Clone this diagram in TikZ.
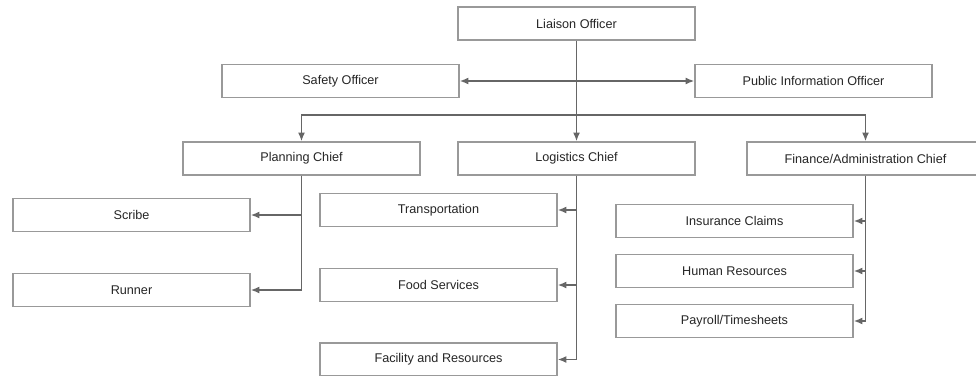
\documentclass[tikz,border=0pt]{standalone}
\usepackage{fontspec}
\setmainfont{Liberation Sans}
\usetikzlibrary{arrows.meta}
\tikzset{>={Latex[length=5pt,width=4pt]}}
\tikzset{
    box/.style={draw=black!40, line width=0.8pt, fill=white, minimum width=4.74cm,
        minimum height=0.66cm, inner sep=0pt, text=black!85,
        font=\fontsize{7.2}{8}\selectfont},
    link/.style={draw=black!60, line width=0.9pt},
}

\begin{document}
\begin{tikzpicture}[x=0.02cm, y=-0.02cm]
    
    \useasboundingbox (0,0) rectangle (976,375);
    \clip (0,0) rectangle (976,375);

    % top rows
    \node[box] (liaison) at (576.5,23.5) {Liaison Officer};
    \node[box] (safety) at (340.5,81) {Safety Officer};
    \node[box] (pio) at (813.5,81) {Public Information Officer};

    % section chiefs
    \node[box] (planning) at (301.5,158.5) {Planning Chief};
    \node[box] (logistics) at (576.5,158.5) {Logistics Chief};
    \node[box] (finance) at (865.5,158.5) {Finance/Administration Chief};

    % planning units
    \node[box] (scribe) at (131.5,215) {Scribe};
    \node[box] (runner) at (131.5,290) {Runner};

    % logistics units
    \node[box] (transport) at (438.5,210) {Transportation};
    \node[box] (food) at (438.5,285) {Food Services};
    \node[box] (facility) at (438.5,359.5) {Facility and Resources};

    % finance units
    \node[box] (claims) at (734.5,221) {Insurance Claims};
    \node[box] (hr) at (734.5,271) {Human Resources};
    \node[box] (payroll) at (734.5,321) {Payroll/Timesheets};


    \coordinate (bar) at (576.5,115);

    \draw[link, ->] (liaison.south) -- (logistics.north);
    \draw[link, <->] (safety.east) -- (pio.west);
    \draw[link, ->] (bar) -| (planning.north);
    \draw[link, ->] (bar) -| (finance.north);

    \draw[link, ->] (planning.south) |- (scribe.east);
    \draw[link, ->] (planning.south) |- (runner.east);

    \draw[link, ->] (logistics.south) |- (transport.east);
    \draw[link, ->] (logistics.south) |- (food.east);
    \draw[link, ->] (logistics.south) |- (facility.east);

    \draw[link, ->] (finance.south) |- (claims.east);
    \draw[link, ->] (finance.south) |- (hr.east);
    \draw[link, ->] (finance.south) |- (payroll.east);


\end{tikzpicture}
\end{document}
